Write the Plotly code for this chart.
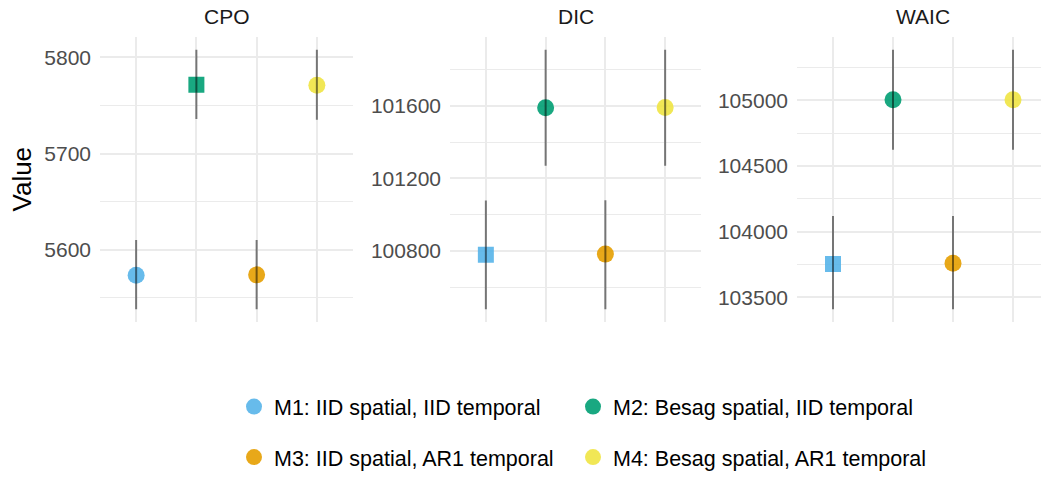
import plotly.graph_objects as go

W, H = 1041, 478

models = ["M1: IID spatial, IID temporal", "M2: Besag spatial, IID temporal",
          "M3: IID spatial, AR1 temporal", "M4: Besag spatial, AR1 temporal"]
model_keys = ["M1", "M2", "M3", "M4"]
colors = ["#56B4E9", "#009E73", "#E69F00", "#F0E442"]

criteria = ["CPO", "DIC", "WAIC"]
higher_is_better = [True, False, False]

cpo_mean = [5573.5, 5771.5, 5573.8, 5771.0]
cpo_low = [5538, 5736, 5538, 5735]
cpo_high = [5610, 5808, 5610, 5808]

dic_mean = [100778, 101591, 100782, 101592]
dic_low = [100477, 101271, 100477, 101271]
dic_high = [101079, 101912, 101080, 101912]

waic_mean = [103755, 105003, 103760, 105004]
waic_low = [103410, 104623, 103410, 104623]
waic_high = [104120, 105384, 104120, 105384]

means = [cpo_mean, dic_mean, waic_mean]
lows = [cpo_low, dic_low, waic_low]
highs = [cpo_high, dic_high, waic_high]

major_dtick = [100, 400, 500]
minor_dtick = [50, 200, 250]

# panel geometry (pixels)
panel_px = [(100, 353), (450, 701), (797, 1049)]
panel_top, panel_bot = 37, 325

fig = go.Figure()
layout = {}
font_fam = "Liberation Sans, Arial, sans-serif"

for i, crit in enumerate(criteria):
    sfx = "" if i == 0 else str(i + 1)
    xa, ya = "x" + sfx, "y" + sfx
    m = means[i]
    best = m.index(max(m)) if higher_is_better[i] else m.index(min(m))
    for j, key in enumerate(model_keys):
        fig.add_trace(go.Scatter(
            x=[key], y=[m[j]], mode="markers", xaxis=xa, yaxis=ya,
            marker=dict(color=colors[j], size=16 if j == best else 17,
                        symbol="square" if j == best else "circle",
                        opacity=0.9, line=dict(width=0)),
            showlegend=False, hoverinfo="skip"))
    ex, ey = [], []
    for j, key in enumerate(model_keys):
        ex += [key, key, None]
        ey += [lows[i][j], highs[i][j], None]
    fig.add_trace(go.Scatter(x=ex, y=ey, mode="lines", xaxis=xa, yaxis=ya,
                             line=dict(color="rgba(0,0,0,0.5)", width=2),
                             showlegend=False, hoverinfo="skip"))

    lo, hi = min(lows[i]), max(highs[i])
    pad = (hi - lo) * 0.05
    x0, x1 = panel_px[i]
    full_w = x1 - x0
    x1c = min(x1, W)
    xr_hi = -0.6 + 4.2 * (x1c - x0) / full_w
    layout["xaxis" + sfx] = dict(
        domain=[x0 / W, x1c / W], anchor=ya, type="category",
        categoryorder="array", categoryarray=model_keys,
        range=[-0.6, xr_hi], showticklabels=False, ticks="",
        showgrid=True, gridcolor="#EBEBEB", gridwidth=1.7,
        zeroline=False, showline=False)
    layout["yaxis" + sfx] = dict(
        domain=[1 - panel_bot / H, 1 - panel_top / H], anchor=xa,
        range=[lo - pad, hi + pad], dtick=major_dtick[i], tick0=0,
        showgrid=True, gridcolor="#EBEBEB", gridwidth=1.7,
        minor=dict(dtick=minor_dtick[i], tick0=0, showgrid=True,
                   gridcolor="#EBEBEB", gridwidth=1),
        ticks="", ticklabelstandoff=8, tickformat="d",
        tickfont=dict(size=21, color="#4D4D4D", family=font_fam),
        zeroline=False, showline=False)

# legend entries: one legend box per entry, arranged 2 x 2
legend_names = ["legend", "legend2", "legend3", "legend4"]
for j, name in enumerate(models):
    fig.add_trace(go.Scatter(
        x=[None], y=[None], mode="markers", name=name,
        marker=dict(color=colors[j], size=16, symbol="circle", opacity=0.9),
        legend=legend_names[j], showlegend=True))

annotations = []
for i, crit in enumerate(criteria):
    x0, x1 = panel_px[i]
    annotations.append(dict(text=crit, x=(x0 + x1) / 2 / W, y=1 - 17 / H,
                            xref="paper", yref="paper", showarrow=False,
                            xanchor="center", yanchor="middle",
                            font=dict(size=21, color="#1A1A1A", family=font_fam)))
annotations.append(dict(text="Value", x=22 / W, y=1 - 181 / H, xref="paper",
                        yref="paper", showarrow=False, textangle=-90,
                        xanchor="center", yanchor="middle",
                        font=dict(size=26, color="black", family=font_fam)))

leg_common = dict(orientation="h", xanchor="left", yanchor="middle",
                  font=dict(size=21.5, color="black", family=font_fam),
                  itemsizing="trace", bgcolor="rgba(0,0,0,0)", borderwidth=0)
leg_x = [234, 573, 234, 573]
leg_y = [410, 410, 461, 461]
leg_layout = {}
for k, ln in enumerate(legend_names):
    leg_layout[ln] = dict(x=leg_x[k] / W, y=1 - leg_y[k] / H, **leg_common)

fig.update_layout(
    width=W, height=H, margin=dict(l=0, r=0, t=0, b=0),
    paper_bgcolor="white", plot_bgcolor="white",
    font=dict(family=font_fam),
    annotations=annotations,
    **leg_layout,
    **layout)

fig.write_html("out.html")
